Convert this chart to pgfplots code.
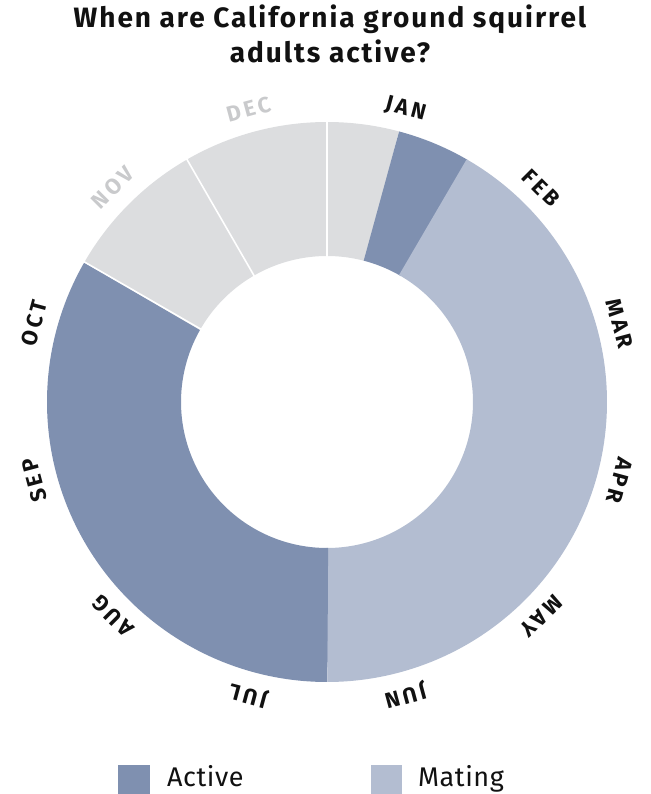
\documentclass[border=0pt]{standalone}
\usepackage{fontspec}
\setmainfont{Fira Sans}
\newfontfamily\titfont[LetterSpace=7]{Fira Sans}
\newfontfamily\labfont[LetterSpace=15]{Fira Sans}
\newfontfamily\legfont[LetterSpace=2]{Fira Sans}
\usepackage{pgfplots}
\pgfplotsset{compat=1.18}
\usepgfplotslibrary{polar}
\definecolor{active}{HTML}{7F90B0}
\definecolor{mating}{HTML}{B3BDD1}
\definecolor{inact}{HTML}{DCDDDF}
\definecolor{greylab}{HTML}{C9CACC}
\definecolor{ink}{HTML}{111111}
\begin{document}
\begin{tikzpicture}[x=1pt,y=1pt]
\useasboundingbox (0,0) rectangle (650,794);
\node[anchor=base, inner sep=0pt, font=\titfont\fontsize{28}{32}\selectfont\bfseries, text=ink] at (330,766) {When are California ground squirrel};
\node[anchor=base, inner sep=0pt, font=\titfont\fontsize{28}{32}\selectfont\bfseries, text=ink] at (330,731) {adults active?};
\begin{polaraxis}[at={(327,392)}, anchor=center, scale only axis, width=560pt, height=560pt,
  ymin=0, ymax=280, hide axis, clip=false, xtick=\empty, ytick=\empty]
% ring segments: angle in standard polar degrees (0 = right, counter-clockwise)
\addplot[draw=inact,  line width=134pt, domain=75:90,   samples=20] {213};  % Jan (first half)
\addplot[draw=active, line width=134pt, domain=59.8:75.2, samples=20] {213}; % Jan (second half)
\addplot[draw=mating, line width=134pt, domain=-90:60.2, samples=150] {213}; % Feb-Jun
\addplot[draw=active, line width=134pt, domain=150:270.2, samples=120] {213}; % Jul-Oct
\addplot[draw=inact,  line width=134pt, domain=119.8:150.2, samples=30] {213}; % Nov
\addplot[draw=inact,  line width=134pt, domain=89.8:120.2,  samples=30] {213}; % Dec
% white separators
\addplot[draw=white, line width=1.6pt] coordinates {(90,145) (90,281)};
\addplot[draw=white, line width=1.6pt] coordinates {(120,145) (120,281)};
\addplot[draw=white, line width=1.6pt] coordinates {(150,145) (150,281)};
% month labels
\begin{scope}[every node/.style={inner sep=0pt, font=\labfont\fontsize{22}{24}\selectfont\bfseries, text=ink}]
\node[rotate=-15]  at (axis cs:75,303)  {JAN};
\node[rotate=-45]  at (axis cs:45,303)  {FEB};
\node[rotate=-75]  at (axis cs:15,303)  {MAR};
\node[rotate=-105] at (axis cs:-15,303) {APR};
\node[rotate=-135] at (axis cs:-45,303) {MAY};
\node[rotate=-165] at (axis cs:-75,303) {JUN};
\node[rotate=-195] at (axis cs:-105,303) {JUL};
\node[rotate=-225] at (axis cs:-135,303) {AUG};
\node[rotate=-255] at (axis cs:-165,303) {SEP};
\node[rotate=-285] at (axis cs:-195,303) {OCT};
\node[rotate=-315,text=greylab] at (axis cs:-225,303) {NOV};
\node[rotate=-345,text=greylab] at (axis cs:-255,303) {DEC};
\end{scope}
\end{polaraxis}
% legend
\fill[active] (118,-2) rectangle (150,29);
\node[anchor=base west, inner sep=0pt, font=\legfont\fontsize{27}{30}\selectfont, text=ink] at (167,7) {Active};
\fill[mating] (371,-2) rectangle (402,29);
\node[anchor=base west, inner sep=0pt, font=\legfont\fontsize{27}{30}\selectfont, text=ink] at (418,7) {Mating};
\end{tikzpicture}
\end{document}
